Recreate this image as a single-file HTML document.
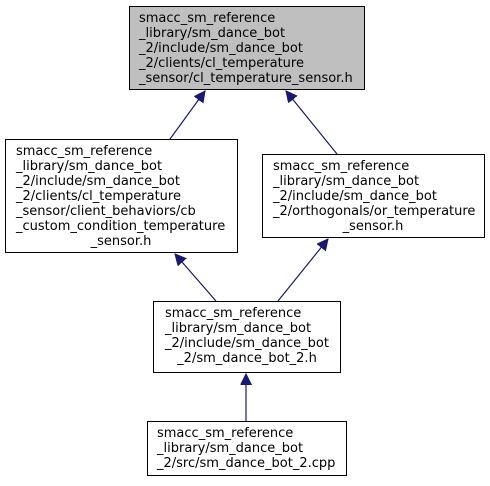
<!DOCTYPE html>
<html><head><style>
html,body{margin:0;padding:0;background:#fff}
text{font-family:"DejaVu Sans","Liberation Sans",sans-serif;font-size:13px;fill:#000}
</style></head><body>
<svg width="490" height="481" viewBox="0 0 490 481" xmlns="http://www.w3.org/2000/svg">
<defs><marker id="a" markerWidth="12" markerHeight="12" refX="11" refY="5.5" orient="auto" markerUnits="userSpaceOnUse"><path d="M0,0 L11,5.5 L0,11 z" fill="#191970" stroke="#191970"/></marker></defs>
<g fill="none" stroke="#191970" stroke-width="1.2">
<line x1="170" y1="139" x2="205" y2="91" marker-end="url(#a)"/>
<line x1="337" y1="154" x2="286" y2="91" marker-end="url(#a)"/>
<line x1="216" y1="301" x2="175" y2="254" marker-end="url(#a)"/>
<line x1="278" y1="301" x2="328" y2="239" marker-end="url(#a)"/>
<line x1="246" y1="421" x2="246" y2="374" marker-end="url(#a)"/>
</g>
<g stroke="#000" stroke-width="1">
<rect x="129.5" y="6.5" width="235" height="83" fill="#bfbfbf"/>
<rect x="5.5" y="139.5" width="232" height="113" fill="#fff"/>
<rect x="262.5" y="154.5" width="222" height="83" fill="#fff"/>
<rect x="153.5" y="301.5" width="187" height="71" fill="#fff"/>
<rect x="147.5" y="421.5" width="199" height="54" fill="#fff"/>
</g>
<text x="139" y="22">smacc_sm_reference</text>
<text x="139" y="37">_library/sm_dance_bot</text>
<text x="139" y="52">_2/include/sm_dance_bot</text>
<text x="139" y="67">_2/clients/cl_temperature</text>
<text x="139" y="82">_sensor/cl_temperature_sensor.h</text>

<text x="16" y="155">smacc_sm_reference</text>
<text x="16" y="170">_library/sm_dance_bot</text>
<text x="16" y="185">_2/include/sm_dance_bot</text>
<text x="16" y="200">_2/clients/cl_temperature</text>
<text x="16" y="215">_sensor/client_behaviors/cb</text>
<text x="16" y="230">_custom_condition_temperature</text>
<text x="121" y="245" text-anchor="middle">_sensor.h</text>

<text x="273" y="170">smacc_sm_reference</text>
<text x="273" y="185">_library/sm_dance_bot</text>
<text x="273" y="200">_2/include/sm_dance_bot</text>
<text x="273" y="215">_2/orthogonals/or_temperature</text>
<text x="373" y="230" text-anchor="middle">_sensor.h</text>

<text x="165" y="317">smacc_sm_reference</text>
<text x="165" y="332">_library/sm_dance_bot</text>
<text x="165" y="347">_2/include/sm_dance_bot</text>
<text x="247" y="362" text-anchor="middle">_2/sm_dance_bot_2.h</text>

<text x="157" y="437">smacc_sm_reference</text>
<text x="157" y="452">_library/sm_dance_bot</text>
<text x="157" y="467">_2/src/sm_dance_bot_2.cpp</text>
</svg>
</body></html>
